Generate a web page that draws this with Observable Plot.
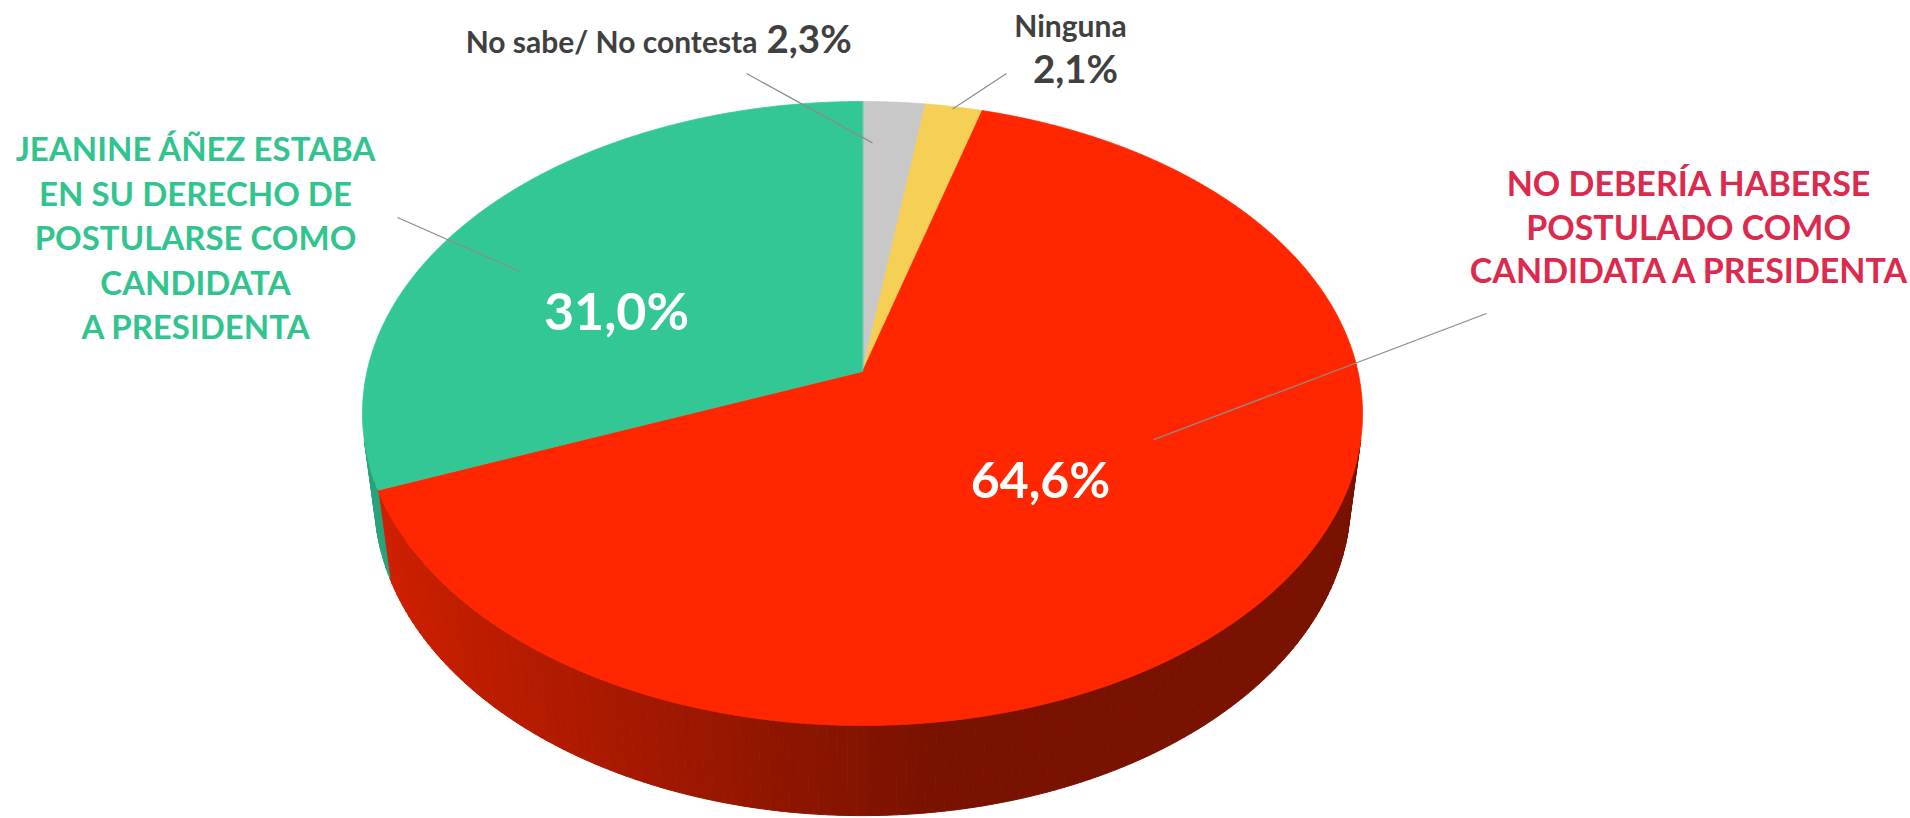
<!DOCTYPE html>
<html>
<head>
<meta charset="utf-8">
<script src="https://cdn.jsdelivr.net/npm/d3@7"></script>
<script src="https://cdn.jsdelivr.net/npm/@observablehq/plot@0.6"></script>
<style>
  html, body { margin: 0; padding: 0; background: #ffffff; }
  #chart svg { display: block; }
</style>
</head>
<body>
<div id="chart"></div>
<script>
// ---------------- DATA ----------------
const categories = [
  "No sabe/ No contesta",
  "Ninguna",
  "NO DEBERÍA HABERSE\nPOSTULADO COMO\nCANDIDATA A PRESIDENTA",
  "JEANINE ÁÑEZ ESTABA\nEN SU DERECHO DE\nPOSTULARSE COMO\nCANDIDATA\nA PRESIDENTA"
];
const values = [2.3, 2.1, 64.6, 31.0];
const valueLabels = ["2,3%", "2,1%", "64,6%", "31,0%"];
const sliceColors = ["#c8c8c8", "#f6cf55", "#ff2600", "#32c795"];

// ---------------- LAYOUT ----------------
const W = 1910, H = 818;
const FONT = "Lato, 'Open Sans', 'DejaVu Sans', sans-serif";
const geom = {cx: 862, cy: 371, S: 495.45, r: 0.17129, alpha: Math.asin(0.61832), depth: 0.2278};

function project(theta, rho, zh) {
  const sa = Math.sin(geom.alpha), ca = Math.cos(geom.alpha);
  const X = rho * Math.sin(theta), Yb = rho * Math.cos(theta);
  const v = Yb * sa + zh * ca;
  const z = 1 + geom.r * (Yb * ca - zh * sa);
  return [geom.cx + geom.S * X / z, geom.cy - geom.S * v / z];
}
function shadeColor(base, f) {
  const c = d3.rgb(base);
  return d3.rgb(c.r * f, c.g * f, c.b * f).formatHex();
}

const slices = categories.map((c, i) => ({category: c, value: values[i], label: valueLabels[i], color: sliceColors[i]}));
const arcs = d3.pie().sort(null).value(d => d.value)(slices);

// top face polygons
const topPts = [];
arcs.forEach((a, i) => {
  const [x0, y0] = project(0, 0, 0);
  topPts.push({x: x0, y: y0, z: "top" + i, fill: a.data.color});
  const n = Math.max(2, Math.ceil((a.endAngle - a.startAngle) / (Math.PI / 720)));
  for (let j = 0; j <= n; j++) {
    const t = a.startAngle + (a.endAngle - a.startAngle) * j / n;
    const [x, y] = project(t, 1, 0);
    topPts.push({x, y, z: "top" + i, fill: a.data.color});
  }
});

// side wall (front-facing part only)
const cosLim = -geom.r / Math.cos(geom.alpha);
const visA = Math.acos(cosLim), visB = 2 * Math.PI - visA;
const sDark = Math.sin(173 * Math.PI / 180), sLight = Math.sin(visB);
const sidePts = [];
arcs.forEach((a, i) => {
  const s = Math.max(a.startAngle, visA), e = Math.min(a.endAngle, visB);
  if (e <= s) return;
  const n = Math.max(1, Math.ceil((e - s) / (Math.PI / 180)));
  for (let j = 0; j < n; j++) {
    const t0 = s + (e - s) * j / n, t1 = s + (e - s) * (j + 1) / n, tm = (t0 + t1) / 2;
    const u = Math.max(0, Math.min(1, (Math.sin(tm) - sLight) / (sDark - sLight)));
    const col = shadeColor(a.data.color, 0.83 + (0.475 - 0.83) * u);
    const id = "side" + i + "-" + j;
    [[t0, 0], [t1, 0], [t1, -geom.depth], [t0, -geom.depth]].forEach(([t, zh]) => {
      const [x, y] = project(t, 1, zh);
      sidePts.push({x, y, z: id, fill: col});
    });
  }
});

// leader lines: label end (layout) -> point inside slice
const leaderLayout = [
  {from: [746, 73], frac: 0.187, rho: 0.83},
  {from: [1006, 73], frac: 0.49, rho: 0.99},
  {from: [1486, 313], frac: 0.408, rho: 0.61},
  {from: [397, 217], frac: 0.42, rho: 0.80}
];
const leaders = arcs.map((a, i) => {
  const L = leaderLayout[i];
  const t = a.startAngle + (a.endAngle - a.startAngle) * L.frac;
  const [x2, y2] = project(t, L.rho, 0);
  return {x1: L.from[0], y1: L.from[1], x2, y2};
});

// text layout
const nameTexts = [
  {text: slices[0].category, x: 757, y: 42.5, size: 30, anchor: "end", color: "#404040"},
  {text: slices[1].category, x: 1070, y: 27, size: 30, anchor: "middle", color: "#404040"},
  {text: slices[2].category, x: 1688, y: 225, size: 34, anchor: "middle", color: "#dc2a4e", lh: 1.29},
  {text: slices[3].category, x: 195, y: 235.5, size: 33, anchor: "middle", color: "#32c48f", lh: 1.35}
];
const valueTexts = [
  {text: slices[0].label, x: 766, y: 40, size: 38.5, anchor: "start", color: "#404040"},
  {text: slices[1].label, x: 1075, y: 70.5, size: 38.5, anchor: "middle", color: "#404040"},
  {text: slices[2].label, x: 1040, y: 481, size: 50, anchor: "middle", color: "#ffffff"},
  {text: slices[3].label, x: 616, y: 313, size: 52, anchor: "middle", color: "#ffffff"}
];

const textMarks = [...nameTexts, ...valueTexts].map(t =>
  Plot.text([t], {x: "x", y: "y", text: "text", textAnchor: t.anchor, fill: t.color,
    fontSize: t.size, fontWeight: "bold", fontFamily: FONT, lineHeight: t.lh || 1})
);

const chart = Plot.plot({
  width: W, height: H,
  margin: 0,
  x: {domain: [0, W], range: [0, W], axis: null},
  y: {domain: [0, H], range: [0, H], axis: null},
  color: {type: "identity"},
  style: {background: "#ffffff", fontFamily: FONT},
  marks: [
    Plot.line(sidePts, {x: "x", y: "y", z: "z", fill: "fill", stroke: "fill", strokeWidth: 1, curve: "linear-closed"}),
    Plot.line(topPts, {x: "x", y: "y", z: "z", fill: "fill", stroke: "fill", strokeWidth: 0.8, curve: "linear-closed"}),
    Plot.link(leaders, {x1: "x1", y1: "y1", x2: "x2", y2: "y2", stroke: "#8c8c8c", strokeWidth: 1.2}),
    ...textMarks
  ]
});
document.getElementById("chart").appendChild(chart);
</script>
</body>
</html>
